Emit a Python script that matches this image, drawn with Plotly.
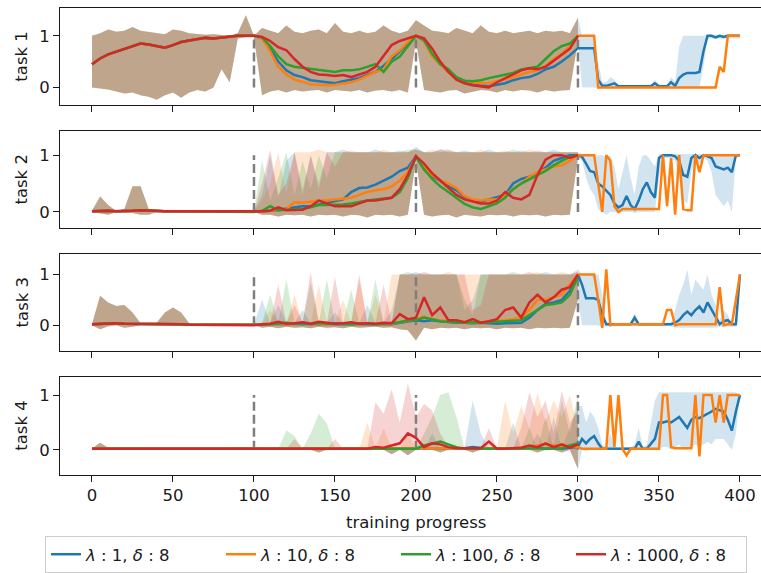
import plotly.graph_objects as go

# ---------------- data ----------------
STEPS_A = list(range(0, 100, 5))                 # 20 points (shared phase, all runs identical)
STEPS_B = list(range(100, 305, 5))               # 41 points
STEPS_C = [302.5 + 2.5 * i for i in range(40)]   # 40 points (only lambda 1 / 10 continue)

SERIES_NAMES = ["<i>λ</i> : 1, <i>δ</i> : 8", "<i>λ</i> : 10, <i>δ</i> : 8",
                "<i>λ</i> : 100, <i>δ</i> : 8", "<i>λ</i> : 1000, <i>δ</i> : 8"]
COLORS = ["#1f77b4", "#ff7f0e", "#2ca02c", "#d62728"]
BAND_COLORS = ["rgba(31,119,180,0.2)", "rgba(255,127,14,0.2)",
               "rgba(44,160,44,0.2)", "rgba(214,39,40,0.2)"]
TASK_NAMES = ["task 1", "task 2", "task 3", "task 4"]
TASK_SWITCHES = [100, 200, 300]
SWITCH_SPAN = [0.0, 1.0]
X_TICKS = [0, 50, 100, 150, 200, 250, 300, 350, 400]

# ---- task 1 ----
T1_A_MEAN = [0.45,0.56,0.64,0.69,0.74,0.79,0.85,0.83,0.80,0.77,0.82,0.88,0.91,0.94,0.96,0.95,0.97,0.98,1.00,1.00]
T1_A_UP = [1.00,1.05,1.12,1.08,1.10,1.17,1.10,1.08,1.05,1.03,1.12,1.10,1.05,1.03,1.02,1.03,1.02,1.00,1.05,1.40]
T1_A_LO = [0.00,-0.02,-0.04,-0.08,-0.12,-0.10,-0.15,-0.18,-0.24,-0.15,-0.10,-0.20,-0.10,-0.05,-0.08,0.00,0.35,0.10,0.95,0.97]
T1_B_L1 = [1.00,0.95,0.75,0.50,0.33,0.24,0.20,0.14,0.12,0.10,0.08,0.12,0.15,0.18,0.24,0.30,0.42,0.55,0.70,0.85,1.00,0.90,0.62,0.45,0.30,0.18,0.10,0.05,0.03,0.02,0.05,0.08,0.14,0.18,0.20,0.26,0.35,0.40,0.50,0.62,0.76]
T1_B_L10 = [1.00,0.95,0.70,0.40,0.25,0.15,0.10,0.06,0.05,0.04,0.05,0.07,0.10,0.15,0.22,0.30,0.35,0.60,0.72,0.88,1.00,0.90,0.60,0.45,0.30,0.15,0.12,0.10,0.08,0.08,0.12,0.15,0.20,0.25,0.30,0.33,0.42,0.55,0.65,0.80,1.00]
T1_B_L100 = [1.00,0.97,0.80,0.60,0.45,0.40,0.38,0.36,0.34,0.32,0.30,0.33,0.33,0.35,0.40,0.45,0.30,0.50,0.60,0.80,1.00,0.92,0.65,0.45,0.35,0.20,0.13,0.12,0.14,0.18,0.21,0.25,0.28,0.35,0.38,0.40,0.55,0.70,0.80,0.85,1.00]
T1_B_L1000 = [1.00,0.98,0.90,0.78,0.72,0.55,0.40,0.30,0.25,0.24,0.22,0.24,0.20,0.25,0.30,0.40,0.60,0.82,0.90,0.95,1.00,0.95,0.75,0.50,0.30,0.15,0.08,0.04,0.02,0.00,0.10,0.18,0.26,0.33,0.37,0.35,0.40,0.52,0.63,0.75,1.00]
T1_B_UP = [1.00,1.15,1.10,1.05,1.20,1.08,1.05,1.10,1.12,1.05,1.25,1.08,1.05,1.10,1.05,1.08,1.20,1.10,1.05,1.10,1.30,1.20,1.10,1.08,1.05,1.15,1.10,1.05,1.20,1.08,1.05,1.10,1.05,1.08,1.10,1.05,1.10,1.08,1.10,1.05,1.35]
T1_B_LO = [0.97,-0.15,-0.08,-0.05,-0.10,-0.05,-0.08,-0.06,-0.05,-0.10,-0.05,-0.06,-0.08,-0.05,-0.10,-0.06,-0.05,-0.08,-0.05,-0.10,0.90,-0.05,-0.08,-0.10,-0.06,-0.05,-0.12,-0.08,-0.05,-0.06,-0.10,-0.05,-0.08,-0.05,-0.06,-0.10,-0.05,-0.08,-0.06,-0.05,0.90]
T1_C_L1 = [0.76,0.76,0.76,0.76,0.15,0.03,0.03,0.06,0.08,0.02,0.02,0.02,0.02,0.02,0.02,0.02,0.02,0.02,0.08,0.02,0.02,0.02,0.10,0.03,0.18,0.25,0.28,0.28,0.28,0.30,0.70,1.00,1.00,0.97,1.00,0.98,1.00,1.00,1.00,1.00]
T1_C_L10 = [1.00,1.00,1.00,1.00,0.00,0.00,0.00,0.00,0.00,0.00,0.00,0.00,0.00,0.00,0.00,0.00,0.00,0.00,0.00,0.00,0.00,0.00,0.00,0.00,0.00,0.00,0.00,0.00,0.00,0.00,0.00,0.00,0.00,0.00,0.40,0.30,1.00,1.00,1.00,1.00]
T1_C_UP = [1.00,1.00,1.00,1.00,0.50,0.10,0.10,0.20,0.15,0.04,0.04,0.04,0.04,0.04,0.04,0.04,0.04,0.04,0.15,0.04,0.04,0.04,0.20,0.10,0.80,1.00,1.00,1.00,1.00,1.00,1.00,1.02,1.02,1.02,1.02,1.02,1.02,1.02,1.02,1.02]
T1_C_LO = [0.00,0.00,0.00,0.00,-0.02,0.00,0.00,0.00,0.00,0.00,0.00,0.00,0.00,0.00,0.00,0.00,0.00,0.00,0.00,0.00,0.00,0.00,0.00,0.00,0.00,0.00,0.00,0.00,0.00,0.00,0.40,0.95,0.95,0.95,0.95,0.95,0.95,0.95,0.95,0.95]

# ---- task 2 ----
T2_A_MEAN = [0.01,0.02,0.02,0.01,0.01,0.02,0.03,0.02,0.01,0.01,0.01,0.01,0.01,0.01,0.01,0.01,0.01,0.01,0.01,0.01]
T2_A_UP = [0.02,0.27,0.12,0.01,0.05,0.45,0.45,0.05,0.01,0.01,0.01,0.01,0.01,0.01,0.01,0.01,0.01,0.01,0.01,0.01]
T2_A_LO = [0.00,-0.02,-0.05,0.00,-0.01,-0.02,-0.05,-0.05,0.00,0.00,0.00,0.00,0.00,0.00,0.00,0.00,0.00,0.00,0.00,0.00]
T2_B_L1 = [0.00,0.01,0.02,0.03,0.06,0.08,0.10,0.10,0.13,0.15,0.18,0.22,0.35,0.42,0.43,0.48,0.55,0.62,0.72,0.78,0.98,0.75,0.62,0.55,0.45,0.38,0.27,0.20,0.18,0.22,0.25,0.30,0.50,0.58,0.62,0.68,0.78,0.90,0.95,1.00,1.00]
T2_B_L10 = [0.00,0.01,0.02,0.03,0.05,0.17,0.16,0.18,0.20,0.20,0.22,0.23,0.25,0.30,0.35,0.38,0.40,0.45,0.55,0.70,0.97,0.78,0.65,0.55,0.50,0.42,0.28,0.22,0.20,0.22,0.22,0.30,0.40,0.50,0.62,0.70,0.75,0.80,0.82,0.90,1.00]
T2_B_L100 = [0.00,0.02,0.10,0.03,0.04,0.05,0.05,0.08,0.12,0.12,0.12,0.13,0.15,0.18,0.20,0.22,0.24,0.25,0.35,0.60,0.97,0.75,0.58,0.45,0.35,0.25,0.14,0.08,0.05,0.10,0.15,0.25,0.40,0.50,0.58,0.65,0.72,0.82,0.90,0.97,1.00]
T2_B_L1000 = [0.00,0.01,0.02,0.08,0.03,0.03,0.04,0.10,0.20,0.15,0.10,0.10,0.10,0.15,0.20,0.20,0.22,0.25,0.40,0.65,0.98,0.85,0.68,0.55,0.42,0.30,0.22,0.18,0.15,0.15,0.20,0.35,0.25,0.22,0.30,0.65,0.92,1.00,1.00,0.95,1.00]
T2_B_UP_L1 = [0.02,0.30,1.00,0.25,0.90,1.05,0.40,1.00,0.50,1.05,1.05,1.10,1.05,1.05,1.05,1.10,1.05,1.05,1.08,1.05,1.15,1.05,1.05,1.10,1.05,1.05,1.08,1.05,1.05,1.10,1.05,1.05,1.05,1.08,1.05,1.05,1.05,1.10,1.05,1.05,1.05]
T2_B_UP_L10 = [0.02,0.20,0.50,1.05,0.30,1.05,1.05,1.05,1.10,1.05,1.05,1.05,1.08,1.05,1.05,1.05,1.10,1.05,1.05,1.05,1.10,1.05,1.10,1.05,1.05,1.05,1.05,1.05,1.10,1.05,1.05,1.08,1.05,1.05,1.10,1.05,1.05,1.05,1.05,1.05,1.05]
T2_B_UP_L100 = [0.02,0.90,0.20,0.60,1.05,0.30,0.90,0.40,1.00,0.60,1.05,1.05,1.05,1.05,1.05,1.05,1.05,1.05,1.05,1.10,1.10,1.05,1.05,1.05,1.08,1.05,1.05,1.05,1.05,1.05,1.05,1.05,1.10,1.05,1.05,1.05,1.05,1.05,1.05,1.05,1.05]
T2_B_UP_L1000 = [0.02,0.50,1.10,0.30,0.50,1.05,0.30,1.00,0.40,1.05,0.80,1.05,1.05,1.05,1.05,1.05,1.05,1.05,1.05,1.05,1.10,1.05,1.05,1.10,1.10,1.05,1.05,1.05,1.05,1.05,1.05,1.05,1.05,1.05,1.05,1.08,1.05,1.05,1.05,1.05,1.05]
T2_B_LO = [0.00,-0.05,-0.05,-0.08,-0.05,-0.06,-0.05,-0.08,-0.05,-0.06,-0.05,-0.08,-0.05,-0.06,-0.10,-0.05,-0.06,-0.05,-0.08,-0.05,0.90,-0.05,-0.08,-0.06,-0.05,-0.10,-0.05,-0.06,-0.08,-0.05,-0.06,-0.05,-0.08,-0.05,-0.06,-0.05,-0.08,-0.05,-0.06,-0.05,0.95]
T2_C_L1 = [0.97,0.85,0.72,0.70,0.50,0.45,0.38,0.30,0.15,0.08,0.12,0.28,0.12,0.05,0.20,0.40,0.52,0.35,0.25,0.95,1.00,1.00,1.00,0.98,0.90,0.65,0.62,0.95,1.00,0.95,1.00,0.98,0.95,0.80,0.78,0.75,0.78,0.70,1.00,1.00]
T2_C_L10 = [1.00,1.00,1.00,1.00,0.50,0.00,1.00,0.90,0.10,0.00,0.05,0.05,0.05,0.05,0.05,0.05,0.05,0.05,0.05,0.05,1.00,0.10,0.95,-0.05,1.00,0.05,0.03,0.03,1.00,0.70,1.00,1.00,1.00,1.00,1.00,1.00,1.00,1.00,1.00,1.00]
T2_C_UP = [1.02,1.02,1.00,1.00,1.00,1.00,0.95,1.00,0.80,0.40,0.70,1.00,0.60,0.30,0.80,1.00,1.00,0.90,0.80,1.02,1.02,1.02,1.02,1.02,1.02,1.02,1.02,1.02,1.02,1.02,1.02,1.02,1.02,1.02,1.02,1.02,1.02,1.02,1.02,1.02]
T2_C_LO = [0.90,0.60,0.40,0.30,0.05,0.00,-0.05,0.00,0.00,-0.02,0.00,0.00,0.00,-0.02,0.00,0.00,0.00,0.00,0.00,0.60,0.95,0.95,0.95,0.90,0.60,0.20,0.15,0.70,0.95,0.85,0.95,0.90,0.70,0.30,0.20,0.10,0.20,0.00,0.95,0.98]

# ---- task 3 ----
T3_A_MEAN = [0.02,0.03,0.04,0.04,0.03,0.03,0.02,0.02,0.02,0.02,0.02,0.02,0.01,0.01,0.01,0.01,0.01,0.01,0.01,0.01]
T3_A_UP = [0.02,0.58,0.45,0.38,0.40,0.25,0.04,0.02,0.05,0.25,0.35,0.25,0.04,0.02,0.02,0.02,0.02,0.02,0.02,0.02]
T3_A_LO = [0.00,-0.08,-0.02,0.00,-0.05,-0.03,0.00,0.00,0.00,0.00,0.00,0.00,0.00,0.00,0.00,0.00,0.00,0.00,0.00,0.00]
T3_B_L1 = [0.00,0.01,0.02,0.03,0.02,0.03,0.02,0.03,0.02,0.03,0.02,0.02,0.03,0.02,0.03,0.02,0.03,0.02,0.05,0.08,0.10,0.08,0.10,0.08,0.06,0.05,0.05,0.04,0.05,0.04,0.03,0.04,0.05,0.05,0.15,0.30,0.42,0.45,0.50,0.68,1.00]
T3_B_L10 = [0.00,0.01,0.02,0.04,0.02,0.03,0.05,0.03,0.04,0.02,0.03,0.04,0.03,0.02,0.04,0.03,0.02,0.03,0.06,0.10,0.12,0.17,0.12,0.10,0.08,0.07,0.06,0.05,0.06,0.07,0.08,0.10,0.12,0.15,0.30,0.50,0.50,0.55,0.60,0.80,1.00]
T3_B_L100 = [0.00,0.01,0.02,0.03,0.05,0.03,0.04,0.02,0.05,0.03,0.04,0.03,0.02,0.04,0.03,0.02,0.03,0.04,0.06,0.10,0.10,0.15,0.12,0.08,0.07,0.06,0.05,0.06,0.05,0.06,0.07,0.08,0.10,0.10,0.20,0.30,0.40,0.42,0.45,0.60,0.95]
T3_B_L1000 = [0.00,0.02,0.03,0.07,0.03,0.04,0.06,0.03,0.07,0.05,0.03,0.04,0.06,0.03,0.04,0.03,0.05,0.04,0.22,0.12,0.15,0.55,0.20,0.35,0.10,0.10,0.06,0.12,0.05,0.08,0.12,0.30,0.35,0.15,0.45,0.60,0.45,0.55,0.70,0.75,1.00]
T3_B_UP_L1 = [0.02,0.50,0.05,0.40,0.05,0.05,0.30,0.05,0.05,0.05,0.25,0.05,0.05,0.05,0.40,0.05,0.05,0.30,1.00,1.00,1.05,1.00,1.00,1.00,1.00,1.00,0.30,0.50,1.00,1.00,1.00,1.00,1.00,1.00,1.00,1.00,1.05,1.00,1.00,1.00,1.10]
T3_B_UP_L10 = [0.02,0.05,0.30,0.05,0.05,0.60,0.05,0.05,0.80,0.05,0.05,0.50,0.05,0.90,0.05,0.60,0.05,1.00,1.00,1.00,1.00,1.00,1.00,1.00,1.05,1.00,1.00,1.00,1.00,1.00,1.00,1.00,1.00,1.00,1.00,1.05,1.00,1.00,1.05,1.00,1.05]
T3_B_UP_L100 = [0.02,0.05,0.60,0.05,0.90,0.05,0.05,0.85,0.05,0.90,0.05,0.05,0.70,0.05,0.05,0.90,0.05,0.05,1.00,1.05,1.00,1.00,1.00,1.00,1.00,1.00,0.50,0.20,1.00,1.00,1.00,1.00,1.05,1.00,1.00,1.00,1.00,1.00,1.00,1.00,1.00]
T3_B_UP_L1000 = [0.02,0.05,0.05,0.80,0.05,0.40,0.06,1.05,0.07,0.05,0.95,0.05,0.06,1.00,0.05,0.05,0.80,0.05,1.00,1.00,1.00,1.05,1.00,1.00,1.00,1.00,1.00,0.30,0.40,1.00,1.00,1.00,1.00,1.00,1.05,1.00,1.00,1.00,1.00,1.00,1.05]
T3_B_LO = [0.00,-0.05,-0.03,-0.06,-0.03,-0.05,-0.04,-0.06,-0.03,-0.05,-0.04,-0.06,-0.03,-0.05,-0.04,-0.03,-0.05,-0.04,-0.08,-0.10,-0.30,-0.05,-0.08,-0.05,-0.06,-0.05,-0.08,-0.05,-0.06,-0.05,-0.08,-0.05,-0.06,-0.05,-0.08,-0.05,-0.06,-0.05,-0.06,-0.05,0.50]
T3_C_L1 = [0.80,0.53,0.53,0.53,0.50,0.20,0.02,0.02,0.02,0.02,0.02,0.02,0.02,0.15,0.02,0.02,0.02,0.02,0.02,0.02,0.02,0.02,0.02,0.05,0.10,0.20,0.27,0.20,0.30,0.37,0.25,0.45,0.30,0.15,0.02,0.08,0.10,0.02,0.02,1.00]
T3_C_L10 = [1.00,1.00,1.00,1.00,0.50,-0.05,1.10,0.00,0.02,0.02,0.02,0.02,0.02,0.02,0.02,0.02,0.02,0.02,0.02,0.02,0.02,0.30,0.30,0.00,0.02,0.02,0.02,0.02,0.02,0.02,0.02,0.02,0.02,0.02,0.75,0.00,0.02,0.02,0.50,1.00]
T3_C_UP = [1.00,1.00,1.00,1.00,1.00,0.60,0.05,0.05,0.05,0.05,0.05,0.05,0.05,0.25,0.05,0.05,0.05,0.05,0.05,0.05,0.05,0.05,0.05,0.30,0.60,0.80,1.10,0.60,0.90,0.80,0.70,1.00,0.60,0.40,0.10,0.30,0.20,0.05,0.05,1.00]
T3_C_LO = [0.00,0.00,0.00,0.00,0.00,-0.05,-0.02,-0.02,-0.02,-0.02,-0.02,-0.02,-0.02,-0.02,-0.02,-0.02,-0.02,-0.02,-0.02,-0.02,-0.02,-0.02,-0.02,-0.05,-0.05,-0.05,-0.05,-0.05,-0.05,-0.05,-0.05,-0.05,-0.05,-0.05,-0.03,-0.03,-0.03,-0.03,-0.03,1.00]

# ---- task 4 ----
T4_A_MEAN = [0.02,0.02,0.02,0.02,0.02,0.02,0.02,0.02,0.02,0.02,0.02,0.02,0.02,0.02,0.02,0.02,0.02,0.02,0.02,0.02]
T4_A_UP = [0.02,0.13,0.04,0.02,0.02,0.02,0.02,0.02,0.02,0.02,0.02,0.02,0.02,0.02,0.02,0.02,0.02,0.02,0.02,0.02]
T4_A_LO = [0.00,0.00,0.00,0.00,0.00,0.00,0.00,0.00,0.00,0.00,0.00,0.00,0.00,0.00,0.00,0.00,0.00,0.00,0.00,0.00]
T4_B_L1 = [0.02,0.02,0.02,0.02,0.02,0.02,0.02,0.02,0.02,0.02,0.02,0.02,0.02,0.02,0.02,0.02,0.02,0.02,0.02,0.02,0.02,0.02,0.02,0.02,0.02,0.02,0.03,0.05,0.03,0.02,0.02,0.02,0.02,0.02,0.03,0.04,0.02,0.03,0.02,0.04,0.05]
T4_B_L10 = [0.02,0.02,0.02,0.02,0.02,0.02,0.02,0.02,0.02,0.02,0.02,0.02,0.02,0.02,0.02,0.02,0.02,0.02,0.02,0.02,0.02,0.02,0.02,0.02,0.02,0.02,0.02,0.02,0.02,0.02,0.02,0.02,0.03,0.04,0.05,0.08,0.10,0.08,0.06,0.08,0.05]
T4_B_L100 = [0.02,0.02,0.02,0.02,0.03,0.02,0.02,0.02,0.03,0.02,0.02,0.02,0.02,0.02,0.02,0.02,0.02,0.02,0.02,0.02,0.02,0.08,0.12,0.15,0.10,0.05,0.02,0.02,0.02,0.02,0.02,0.02,0.02,0.02,0.02,0.02,0.03,0.02,0.03,0.08,0.12]
T4_B_L1000 = [0.02,0.02,0.02,0.02,0.02,0.02,0.02,0.02,0.02,0.02,0.02,0.02,0.02,0.02,0.02,0.05,0.04,0.08,0.12,0.30,0.22,0.05,0.12,0.10,0.05,0.03,0.03,0.04,0.03,0.15,0.02,0.02,0.03,0.04,0.08,0.05,0.12,0.05,0.10,0.04,0.10]
T4_B_UP_L1 = [0.02,0.02,0.02,0.02,0.02,0.02,0.02,0.02,0.02,0.02,0.02,0.02,0.02,0.02,0.02,0.02,0.02,0.02,0.02,0.02,0.02,0.02,0.30,0.02,0.02,0.02,0.03,0.90,0.30,0.02,0.02,0.02,0.50,0.02,0.03,0.30,0.02,0.60,0.02,0.40,0.80]
T4_B_UP_L10 = [0.02,0.02,0.02,0.02,0.02,0.02,0.02,0.02,0.02,0.02,0.02,0.02,0.02,0.02,0.50,0.02,0.40,0.02,0.02,0.30,0.02,0.02,0.02,0.02,0.02,0.02,0.02,0.02,0.02,0.02,0.02,0.90,0.30,0.80,0.40,1.05,0.50,0.90,0.60,1.00,0.40]
T4_B_UP_L100 = [0.02,0.02,0.02,0.02,0.36,0.25,0.02,0.30,0.66,0.48,0.02,0.02,0.02,0.02,0.02,0.02,0.02,0.02,0.02,0.02,0.02,0.30,0.60,1.00,1.05,0.60,0.02,0.02,0.02,0.02,0.02,0.02,0.02,0.02,0.40,0.02,0.60,0.02,0.90,0.30,1.00]
T4_B_UP_L1000 = [0.02,0.02,0.02,0.02,0.02,0.20,0.02,0.02,0.02,0.02,0.20,0.02,0.02,0.02,0.02,0.87,0.66,1.10,0.50,1.22,0.60,0.84,0.72,0.30,0.05,0.03,0.03,0.04,0.03,0.40,0.02,0.02,0.03,0.40,1.05,0.60,0.90,0.30,1.08,0.50,0.72]
T4_B_LO = [0.00,0.00,0.00,0.00,0.00,0.00,0.00,0.00,-0.05,0.00,0.00,0.00,0.00,0.00,0.00,0.00,0.00,-0.08,0.00,-0.10,0.00,0.00,0.00,-0.05,0.00,0.00,0.00,-0.05,0.00,0.00,0.00,0.00,0.00,0.00,0.00,-0.05,0.00,0.00,-0.05,0.00,-0.35]
T4_C_L1 = [0.20,0.12,0.20,0.25,0.12,0.02,0.02,0.02,0.02,0.02,0.02,0.02,0.02,0.02,0.15,0.02,0.02,0.10,0.20,0.50,0.50,0.52,0.50,0.55,0.60,0.50,0.40,0.55,0.60,0.58,0.62,0.65,0.70,0.75,0.72,0.70,0.55,0.35,0.70,1.00]
T4_C_L10 = [0.02,0.02,0.02,0.02,0.02,0.02,0.02,1.00,0.05,1.00,0.02,-0.10,0.02,0.02,0.02,0.02,0.02,0.02,0.02,0.02,1.00,1.00,0.05,0.03,0.03,0.03,0.03,0.03,1.00,-0.12,1.00,1.00,1.00,0.50,1.00,0.50,1.00,1.00,1.00,1.00]
T4_C_UP = [0.80,0.50,0.70,0.60,0.40,0.10,0.05,0.30,0.05,0.05,0.05,0.05,0.05,0.10,0.40,0.05,0.10,0.50,0.90,1.05,1.05,1.05,1.05,1.05,1.05,1.05,1.05,1.05,1.05,1.05,1.05,1.05,1.05,1.05,1.05,1.05,1.05,1.05,1.05,1.00]
T4_C_LO = [0.00,-0.02,0.00,0.00,0.00,0.00,0.00,0.00,0.00,0.00,0.00,0.00,0.00,0.00,0.00,0.00,0.00,0.00,0.00,0.00,0.05,0.05,0.00,0.05,0.10,0.00,0.00,0.05,0.10,0.05,0.10,0.15,0.10,0.20,0.20,0.20,0.10,0.00,0.30,1.00]

# ---------------- assemble ----------------
TASKS = [
    dict(a=(T1_A_MEAN, T1_A_UP, T1_A_LO),
         b_mean=[T1_B_L1, T1_B_L10, T1_B_L100, T1_B_L1000],
         b_up=[T1_B_UP, T1_B_UP, T1_B_UP, T1_B_UP], b_lo=T1_B_LO,
         c_mean=[T1_C_L1, T1_C_L10], c_up=T1_C_UP, c_lo=T1_C_LO),
    dict(a=(T2_A_MEAN, T2_A_UP, T2_A_LO),
         b_mean=[T2_B_L1, T2_B_L10, T2_B_L100, T2_B_L1000],
         b_up=[T2_B_UP_L1, T2_B_UP_L10, T2_B_UP_L100, T2_B_UP_L1000], b_lo=T2_B_LO,
         c_mean=[T2_C_L1, T2_C_L10], c_up=T2_C_UP, c_lo=T2_C_LO),
    dict(a=(T3_A_MEAN, T3_A_UP, T3_A_LO),
         b_mean=[T3_B_L1, T3_B_L10, T3_B_L100, T3_B_L1000],
         b_up=[T3_B_UP_L1, T3_B_UP_L10, T3_B_UP_L100, T3_B_UP_L1000], b_lo=T3_B_LO,
         c_mean=[T3_C_L1, T3_C_L10], c_up=T3_C_UP, c_lo=T3_C_LO),
    dict(a=(T4_A_MEAN, T4_A_UP, T4_A_LO),
         b_mean=[T4_B_L1, T4_B_L10, T4_B_L100, T4_B_L1000],
         b_up=[T4_B_UP_L1, T4_B_UP_L10, T4_B_UP_L100, T4_B_UP_L1000], b_lo=T4_B_LO,
         c_mean=[T4_C_L1, T4_C_L10], c_up=T4_C_UP, c_lo=T4_C_LO),
]

W, H = 761, 573
X_DOMAIN = [60 / W, 1.0]
X_RANGE = [-19.75, 413.0]
Y_DOMAINS = [[1 - 106 / H, 1 - 8 / H], [1 - 229 / H, 1 - 132 / H],
             [1 - 353 / H, 1 - 255 / H], [1 - 477 / H, 1 - 379 / H]]
Y_RANGES = [[-0.35, 1.54], [-0.28, 1.42], [-0.51, 1.41], [-0.45, 1.33]]
FONT = "DejaVu Sans"
FS = 16.5
AXIS_COLOR = "#1a1a1a"

fig = go.Figure()

for ti, t in enumerate(TASKS):
    xa = "x" if ti == 0 else f"x{ti + 1}"
    ya = "y" if ti == 0 else f"y{ti + 1}"
    a_mean, a_up, a_lo = t["a"]
    # bands
    for si in range(4):
        xs = STEPS_A + STEPS_B
        up = a_up + t["b_up"][si]
        lo = a_lo + t["b_lo"]
        if si == 0:
            xs = xs + STEPS_C
            up = up + t["c_up"]
            lo = lo + t["c_lo"]
        fig.add_trace(go.Scatter(
            x=xs + xs[::-1], y=up + lo[::-1], xaxis=xa, yaxis=ya,
            fill="toself", fillcolor=BAND_COLORS[si], mode="lines",
            line=dict(width=0), hoverinfo="skip", showlegend=False))
    # task switch markers
    for s in TASK_SWITCHES:
        fig.add_trace(go.Scatter(
            x=[s, s], y=SWITCH_SPAN, xaxis=xa, yaxis=ya, mode="lines",
            line=dict(color="#7f7f7f", width=2.5, dash="9px,4px"),
            hoverinfo="skip", showlegend=False))
    # mean lines
    for si in range(4):
        xs = STEPS_A + STEPS_B
        ys = a_mean + t["b_mean"][si]
        if si < 2:
            xs = xs + STEPS_C
            ys = ys + t["c_mean"][si]
        fig.add_trace(go.Scatter(
            x=xs, y=ys, xaxis=xa, yaxis=ya, mode="lines",
            line=dict(color=COLORS[si], width=2.5),
            name=SERIES_NAMES[si], showlegend=(ti == 0), legendrank=si + 1))

layout = dict(
    width=W, height=H, margin=dict(l=0, r=0, t=0, b=0),
    paper_bgcolor="white", plot_bgcolor="white",
    font=dict(family=FONT, size=FS, color=AXIS_COLOR),
    legend=dict(orientation="h", x=396 / W, xanchor="center", y=1 - 539 / H, yanchor="top",
                bordercolor="#cccccc", borderwidth=1, bgcolor="white",
                entrywidth=130, entrywidthmode="pixels",
                font=dict(family=FONT, size=FS, color=AXIS_COLOR), traceorder="normal"),
    annotations=[],
)
for ti in range(4):
    xk = "xaxis" if ti == 0 else f"xaxis{ti + 1}"
    yk = "yaxis" if ti == 0 else f"yaxis{ti + 1}"
    layout[xk] = dict(domain=X_DOMAIN, range=X_RANGE, anchor="y" if ti == 0 else f"y{ti + 1}",
                      showline=True, mirror=True, linecolor=AXIS_COLOR, linewidth=1,
                      ticks="outside", ticklen=6, tickcolor=AXIS_COLOR, tickwidth=1,
                      tickvals=X_TICKS, showticklabels=(ti == 3), showgrid=False,
                      zeroline=False, tickfont=dict(size=FS))
    layout[yk] = dict(domain=Y_DOMAINS[ti], range=Y_RANGES[ti], anchor="x" if ti == 0 else f"x{ti + 1}",
                      showline=True, mirror=False, linecolor=AXIS_COLOR, linewidth=1,
                      ticks="outside", ticklen=6, tickcolor=AXIS_COLOR, tickwidth=1,
                      tickvals=[0, 1], showgrid=False, zeroline=False, tickfont=dict(size=FS))
    yc = (Y_DOMAINS[ti][0] + Y_DOMAINS[ti][1]) / 2
    layout["annotations"].append(dict(text=TASK_NAMES[ti], x=22 / W, y=yc, xref="paper", yref="paper",
                                      textangle=-90, showarrow=False, xanchor="center", yanchor="middle",
                                      font=dict(size=FS, color=AXIS_COLOR)))
layout["annotations"].append(dict(text="training progress", x=416 / W, y=1 - 525 / H,
                                  xref="paper", yref="paper", showarrow=False,
                                  xanchor="center", yanchor="middle",
                                  font=dict(size=FS, color=AXIS_COLOR)))
fig.update_layout(**layout)
fig.write_html("out.html")
